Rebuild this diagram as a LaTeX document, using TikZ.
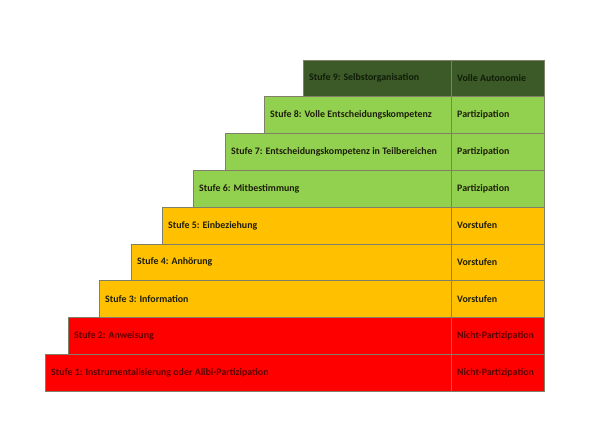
\documentclass[tikz,border=0pt]{standalone}
\usepackage{fontspec}
\setmainfont{Carlito}
\definecolor{dgreen}{HTML}{3B5A27}
\definecolor{lgreen}{HTML}{92D050}
\definecolor{yel}{HTML}{FFC000}
\definecolor{red0}{HTML}{FF0000}
\definecolor{txtdg}{HTML}{111C09}
\definecolor{txtred}{HTML}{5E0000}
\definecolor{txtdark}{HTML}{1E1E0A}
\definecolor{edge}{HTML}{7F7F6A}
\begin{document}
\begin{tikzpicture}[x=1pt,y=-1pt,
  cell/.style={draw=edge, line width=0.6pt, anchor=north west, inner sep=0pt,
    minimum height=36.8pt},
  stage/.style={cell},
  level/.style={cell, minimum width=93pt},
  label/.style={anchor=west, inner sep=0pt, font=\bfseries\fontsize{9.9}{11}\selectfont}]
\useasboundingbox (0,0) rectangle (600,431);
\def\rh{36.8}
\newcommand{\steprow}[7]{%
  % #1 name, #2 left x, #3 row index (0 = top), #4 fill, #5 text colour, #6 stage text, #7 level text
  \node[stage, fill=#4, minimum width={451-#2}] (#1s) at (#2, {59.5+#3*\rh}) {};
  \node[level, fill=#4] (#1l) at (451, {59.5+#3*\rh}) {};
  \node[label, text=#5] (#1st) at ([xshift=6pt]#1s.west) {#6};
  \node[label, text=#5] (#1lt) at ([xshift=6pt]#1l.west) {#7};
}
\steprow{a}{303}{0}{dgreen}{txtdg}{Stufe 9: Selbstorganisation}{Volle Autonomie}
\steprow{b}{264}{1}{lgreen}{txtdark}{Stufe 8: Volle Entscheidungskompetenz}{Partizipation}
\steprow{c}{225}{2}{lgreen}{txtdark}{Stufe 7: Entscheidungskompetenz in Teilbereichen}{Partizipation}
\steprow{d}{193}{3}{lgreen}{txtdark}{Stufe 6: Mitbestimmung}{Partizipation}
\steprow{e}{162}{4}{yel}{txtdark}{Stufe 5: Einbeziehung}{Vorstufen}
\steprow{f}{131}{5}{yel}{txtdark}{Stufe 4: Anhörung}{Vorstufen}
\steprow{g}{99}{6}{yel}{txtdark}{Stufe 3: Information}{Vorstufen}
\steprow{h}{68}{7}{red0}{txtred}{Stufe 2: Anweisung}{Nicht-Partizipation}
\steprow{i}{45}{8}{red0}{txtred}{Stufe 1: Instrumentalisierung oder Alibi-Partizipation}{Nicht-Partizipation}
\end{tikzpicture}
\end{document}
